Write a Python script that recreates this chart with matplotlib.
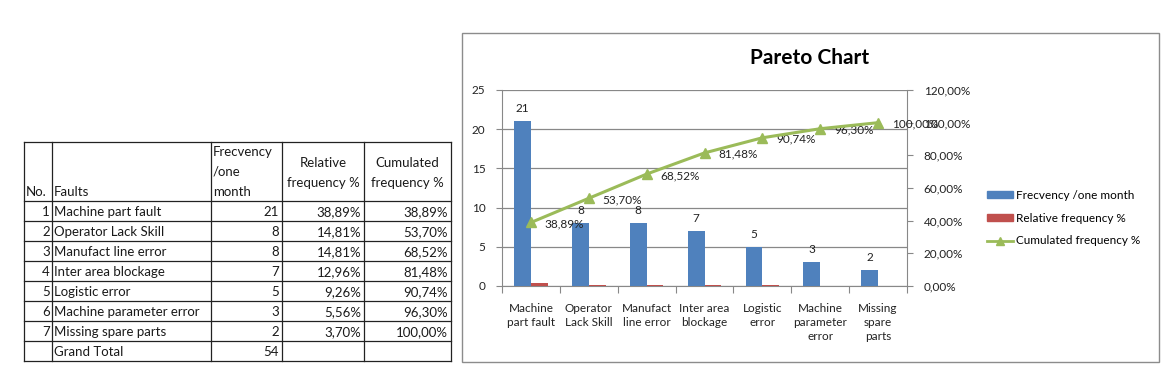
import numpy as np
import matplotlib
matplotlib.use('Agg')
import matplotlib.pyplot as plt
from matplotlib.lines import Line2D
from matplotlib.patches import Patch, Rectangle

plt.rcParams['font.family'] = ['Lato', 'DejaVu Sans']

# data
faults = ['Machine part fault', 'Operator Lack Skill', 'Manufact line error',
          'Inter area blockage', 'Logistic error', 'Machine parameter error',
          'Missing spare parts']
xlabels = ['Machine\npart fault', 'Operator\nLack Skill', 'Manufact\nline error',
           'Inter area\nblockage', 'Logistic\nerror', 'Machine\nparameter\nerror',
           'Missing\nspare\nparts']
freq = [21, 8, 8, 7, 5, 3, 2]
rel_pct = [38.89, 14.81, 14.81, 12.96, 9.26, 5.56, 3.70]
cum_pct = [38.89, 53.70, 68.52, 81.48, 90.74, 96.30, 100.00]
total = 54

blue = '#4F81BD'
red = '#C0504D'
green = '#9BBB59'
grid_c = '#888888'


def pct(v):
    return ('%.2f%%' % v).replace('.', ',')


W, H = 1172, 382
fig = plt.figure(figsize=(W / 100, H / 100), dpi=100)
fig.patch.set_facecolor('white')

# background axes in pixel coords (table + chart frame)
bg = fig.add_axes([0, 0, 1, 1])
bg.set_xlim(0, W)
bg.set_ylim(H, 0)
bg.axis('off')

# ---- table ----
col_x = [24, 52, 211, 282, 364, 451]
top, head_bot, row_h = 142, 201, 20
n_rows = len(faults) + 1
bottom = head_bot + row_h * n_rows
lc = '#222222'
for xx in col_x:
    bg.plot([xx, xx], [top, bottom], color=lc, lw=0.9)
bg.plot([col_x[0], col_x[-1]], [top, top], color=lc, lw=0.9)
for i in range(n_rows + 1):
    y = head_bot + row_h * i
    bg.plot([col_x[0], col_x[-1]], [y, y], color=lc, lw=0.9)

fs = 9.5
tc = '#1a1a1a'
bg.text(col_x[0] + 2, 192, 'No.', fontsize=fs, color=tc, va='center')
bg.text(col_x[1] + 2, 192, 'Faults', fontsize=fs, color=tc, va='center')
for j, s in enumerate(['Frecvency', '/one', 'month']):
    bg.text(col_x[2] + 2, 152 + 20 * j, s, fontsize=fs, color=tc, va='center')
for j, s in enumerate(['Relative', 'frequency %']):
    bg.text((col_x[3] + col_x[4]) / 2, 163 + 20 * j, s, fontsize=fs, color=tc,
            va='center', ha='center')
for j, s in enumerate(['Cumulated', 'frequency %']):
    bg.text((col_x[4] + col_x[5]) / 2, 163 + 20 * j, s, fontsize=fs, color=tc,
            va='center', ha='center')

for i, f in enumerate(faults):
    yc = head_bot + row_h * i + row_h / 2 + 1
    bg.text(col_x[1] - 2, yc, str(i + 1), fontsize=fs, color=tc, va='center', ha='right')
    bg.text(col_x[1] + 2, yc, f, fontsize=fs, color=tc, va='center')
    bg.text(col_x[3] - 3, yc, str(freq[i]), fontsize=fs, color=tc, va='center', ha='right')
    bg.text(col_x[4] - 3, yc, pct(rel_pct[i]), fontsize=fs, color=tc, va='center', ha='right')
    bg.text(col_x[5] - 3, yc, pct(cum_pct[i]), fontsize=fs, color=tc, va='center', ha='right')
yc = head_bot + row_h * len(faults) + row_h / 2 + 1
bg.text(col_x[1] + 2, yc, 'Grand Total', fontsize=fs, color=tc, va='center')
bg.text(col_x[3] - 3, yc, str(total), fontsize=fs, color=tc, va='center', ha='right')

# ---- chart frame ----
bg.add_patch(Rectangle((462, 33), 1159 - 462, 362 - 33, fill=False,
                       edgecolor='#8c8c8c', lw=1.0))
bg.text(810, 58, 'Pareto Chart', fontsize=15, fontweight='bold', color='black',
        ha='center', va='center')

# ---- chart axes ----
x0, x1, y0, y1 = 502, 907, 90, 286
ax = fig.add_axes([x0 / W, (H - y1) / H, (x1 - x0) / W, (y1 - y0) / H])
ax.patch.set_visible(False)
n = len(freq)
x = np.arange(n)
bw = 0.29
ax.bar(x - bw / 2, freq, width=bw, color=blue, zorder=3)
ax.bar(x + bw / 2, [v / 100 for v in rel_pct], width=bw, color=red, zorder=3)
for i, v in enumerate(freq):
    ax.annotate(str(v), (x[i] - bw / 2, v), xytext=(0, 9), textcoords='offset points',
                ha='center', va='center', fontsize=8.5, color='#222222')
ax.set_xlim(-0.5, n - 0.5)
ax.set_ylim(0, 25)
ax.set_yticks([0, 5, 10, 15, 20, 25])
ax.yaxis.grid(True, color=grid_c, lw=0.9, zorder=0)
ax.set_xticks(np.arange(-0.5, n, 1.0))
ax.set_xticklabels([])
ax.set_xticks(x, minor=True)
ax.set_xticklabels(xlabels, minor=True, fontsize=8.5, color='#222222', linespacing=1.35)
ax.tick_params(axis='x', which='major', length=5, color=grid_c, direction='out')
ax.tick_params(axis='x', which='minor', length=0, pad=12)
ax.tick_params(axis='y', length=4, color=grid_c, labelsize=8.5, labelcolor='#222222', pad=8)
for s in ['top', 'right']:
    ax.spines[s].set_visible(False)
for s in ['left', 'bottom']:
    ax.spines[s].set_color(grid_c)

ax2 = ax.twinx()
ax2.plot(x, [v / 100 for v in cum_pct], color=green, lw=2.2, marker='^',
         markersize=7, zorder=4)
for i, v in enumerate(cum_pct):
    ax2.annotate(pct(v), (x[i], v / 100), xytext=(10, -1), textcoords='offset points',
                 ha='left', va='center', fontsize=8.5, color='#222222')
ax2.set_ylim(0, 1.2)
ax2.set_yticks(np.arange(0, 1.21, 0.2))
ax2.set_yticklabels([pct(v * 100) for v in np.arange(0, 1.21, 0.2)])
ax2.tick_params(axis='y', length=4, color=grid_c, labelsize=8.5, labelcolor='#222222', pad=8)
for s in ['top', 'left', 'bottom']:
    ax2.spines[s].set_visible(False)
ax2.spines['right'].set_color(grid_c)

handles = [Patch(color=blue, label='Frecvency /one month'),
           Patch(color=red, label='Relative frequency %'),
           Line2D([], [], color=green, lw=2, marker='^', markersize=6,
                  label='Cumulated frequency %')]
fig.legend(handles=handles, loc='center left', bbox_to_anchor=(976 / W, 1 - 218 / H),
           frameon=False, fontsize=8.5, handlelength=2.2, handleheight=0.5,
           labelspacing=1.0, handletextpad=0.3)

fig.savefig('out.png', dpi=100)
